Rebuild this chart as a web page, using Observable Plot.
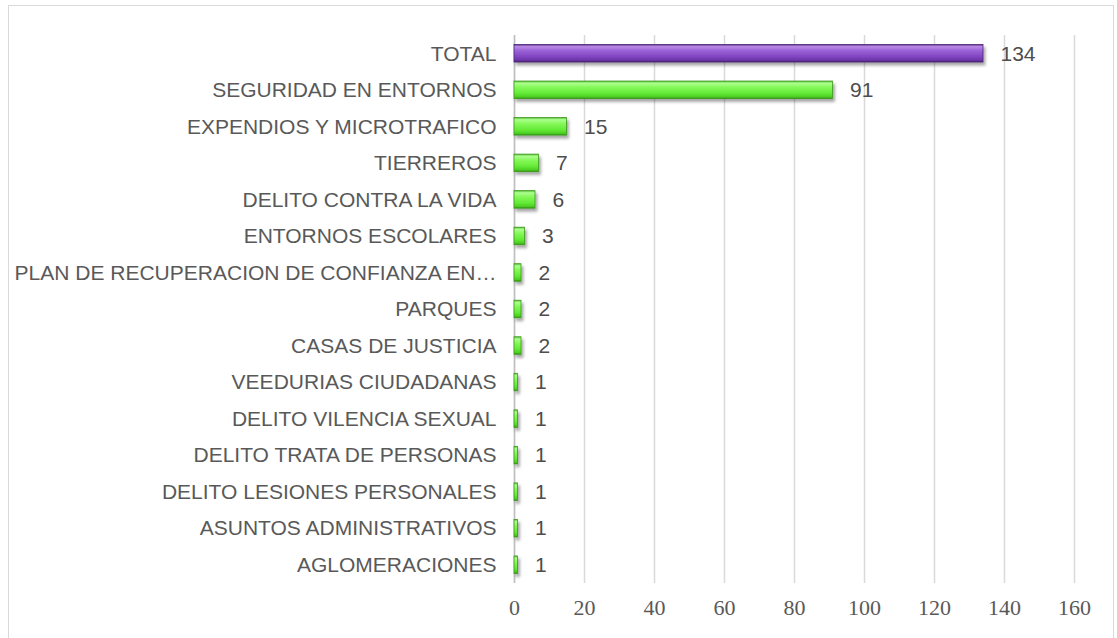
<!DOCTYPE html>
<html>
<head>
<meta charset="utf-8">
<script src="https://cdn.jsdelivr.net/npm/d3@7"></script>
<script src="https://cdn.jsdelivr.net/npm/@observablehq/plot@0.6"></script>
<style>
  html, body { margin: 0; padding: 0; background: #fff; }
  #wrap { position: relative; width: 1117px; height: 638px; overflow: hidden; }
  #frame { position: absolute; left: 8px; top: 5px; width: 1106px; height: 660px; border: 1.5px solid #d9d9d9; box-sizing: border-box; }
  #chart { position: absolute; left: 0; top: 0; }
</style>
</head>
<body>
<div id="wrap">
  <div id="frame"></div>
  <div id="chart"></div>
</div>
<script>
const categories = [
  "TOTAL",
  "SEGURIDAD EN ENTORNOS",
  "EXPENDIOS Y MICROTRAFICO",
  "TIERREROS",
  "DELITO CONTRA LA VIDA",
  "ENTORNOS ESCOLARES",
  "PLAN DE RECUPERACION DE CONFIANZA EN…",
  "PARQUES",
  "CASAS DE JUSTICIA",
  "VEEDURIAS CIUDADANAS",
  "DELITO VILENCIA SEXUAL",
  "DELITO TRATA DE PERSONAS",
  "DELITO LESIONES PERSONALES",
  "ASUNTOS ADMINISTRATIVOS",
  "AGLOMERACIONES"
];
const values = [134, 91, 15, 7, 6, 3, 2, 2, 2, 1, 1, 1, 1, 1, 1];
const xTicks = [0, 20, 40, 60, 80, 100, 120, 140, 160];
const totalCategory = "TOTAL";

const rows = categories.map((c, i) => ({category: c, value: values[i]}));

const svg = Plot.plot({
  width: 1117,
  height: 638,
  marginLeft: 514,
  marginRight: 43,
  marginTop: 35,
  marginBottom: 55,
  x: {domain: [0, 160], ticks: xTicks, label: null},
  y: {domain: categories, paddingInner: 0.52, paddingOuter: 0.26, round: false, label: null},
  marks: [
    Plot.gridX(xTicks, {stroke: "#d9d9d9", strokeOpacity: 1, strokeWidth: 1.5}),
    Plot.ruleX([0], {stroke: "#bfbfbf", strokeWidth: 1.5}),
    Plot.barX(rows, {filter: d => d.category !== totalCategory, x: "value", y: "category",
      fill: "url(#gradGreen)", stroke: "#3c9a1c", strokeWidth: 0.8}),
    Plot.barX(rows, {filter: d => d.category === totalCategory, x: "value", y: "category",
      fill: "url(#gradPurple)", stroke: "#4b2475", strokeWidth: 0.8}),
    Plot.text(rows, {x: "value", y: "category", text: d => String(d.value), dx: 17,
      textAnchor: "start", fontSize: 21, fill: "#4d4d4d", fontFamily: "Liberation Sans, Arial, sans-serif"}),
    Plot.axisY({tickSize: 0, tickPadding: 18, fontSize: 21, fill: "#595959",
      fontFamily: "Liberation Sans, Arial, sans-serif", label: null}),
    Plot.axisX(xTicks, {tickSize: 0, tickPadding: 16, fontSize: 22, fill: "#595959",
      fontFamily: "Liberation Serif, Cambria, serif", label: null})
  ]
});

const s = d3.select(svg);
s.style("font-family", "Liberation Sans, Arial, sans-serif");
s.insert("defs", ":first-child").html(`
  <linearGradient id="gradGreen" x1="0" y1="0" x2="0" y2="1">
    <stop offset="0" stop-color="#58b834"/>
    <stop offset="0.12" stop-color="#acff8e"/>
    <stop offset="0.35" stop-color="#86f85a"/>
    <stop offset="0.7" stop-color="#64ea36"/>
    <stop offset="0.9" stop-color="#4ccf22"/>
    <stop offset="1" stop-color="#338f18"/>
  </linearGradient>
  <linearGradient id="gradPurple" x1="0" y1="0" x2="0" y2="1">
    <stop offset="0" stop-color="#5e3189"/>
    <stop offset="0.12" stop-color="#b88ae6"/>
    <stop offset="0.35" stop-color="#9b62d8"/>
    <stop offset="0.7" stop-color="#8044c0"/>
    <stop offset="0.9" stop-color="#6a33a6"/>
    <stop offset="1" stop-color="#47226c"/>
  </linearGradient>
  <filter id="shadow" x="-10%" y="-30%" width="130%" height="190%">
    <feDropShadow dx="2" dy="3" stdDeviation="1.8" flood-color="#000" flood-opacity="0.35"/>
  </filter>
`);
s.selectAll("g[aria-label='bar']").attr("filter", "url(#shadow)");

document.getElementById("chart").appendChild(svg);
</script>
</body>
</html>
